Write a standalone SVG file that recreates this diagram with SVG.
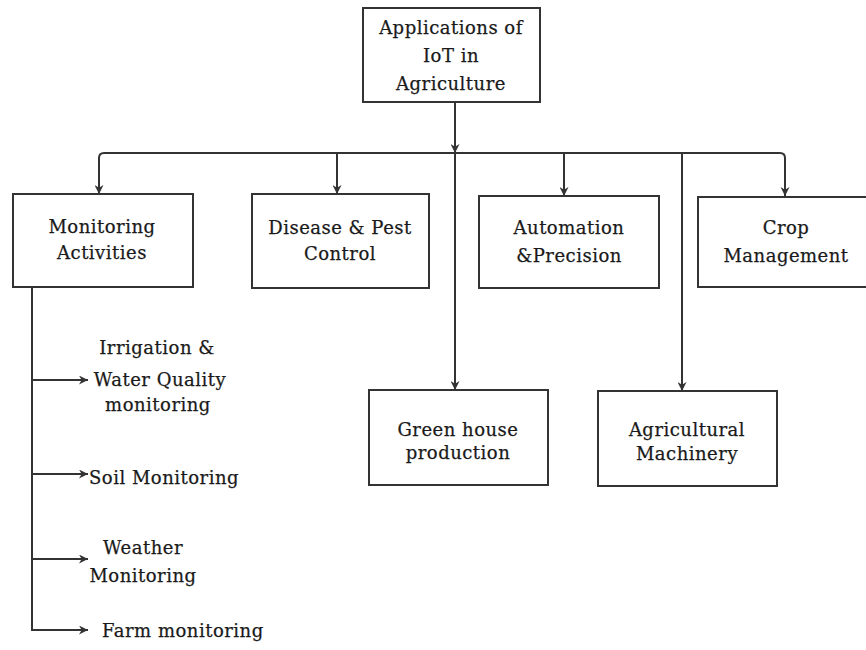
<svg xmlns="http://www.w3.org/2000/svg" width="866" height="650" viewBox="0 0 866 650">
<defs>
<marker id="ah" viewBox="0 0 10 10" refX="10" refY="5" markerWidth="9" markerHeight="9" markerUnits="userSpaceOnUse" orient="auto">
<path d="M0,0 L10,5 L0,10 L3,5 Z" fill="#333"/>
</marker>
<style>
.box{fill:none;stroke:#333;stroke-width:2}
.t{font-family:"DejaVu Serif","Liberation Serif",serif;font-size:18px;letter-spacing:0.5px;fill:#1a1a1a;stroke:#1a1a1a;stroke-width:0.25;text-anchor:middle}
.ts{font-family:"DejaVu Serif","Liberation Serif",serif;font-size:18px;letter-spacing:0.5px;fill:#1a1a1a;stroke:#1a1a1a;stroke-width:0.25}
.c{fill:none;stroke:#333;stroke-width:2}
</style>
</defs>
<rect width="866" height="650" fill="#fff"/>
<g id="connectors">
<path class="c" d="M455,102 V153" marker-end="url(#ah)"/>
<path class="c" d="M455,153 V390" marker-end="url(#ah)"/>
<path class="c" d="M99,194 V158 Q99,153 104,153 H780 Q785,153 785,158 V196" marker-end="url(#ah)"/>
<path class="c" d="M99,158 V194" marker-end="url(#ah)"/>
<path class="c" d="M337,153 V194" marker-end="url(#ah)"/>
<path class="c" d="M564,153 V196" marker-end="url(#ah)"/>
<path class="c" d="M682,153 V391" marker-end="url(#ah)"/>
<path class="c" d="M32,287 V630 H88" marker-end="url(#ah)"/>
<path class="c" d="M32,380 H88" marker-end="url(#ah)"/>
<path class="c" d="M32,474 H88" marker-end="url(#ah)"/>
<path class="c" d="M32,559 H88" marker-end="url(#ah)"/>
</g>
<g id="root">
<rect class="box" x="363" y="8" width="177" height="94"/>
<text class="t" x="451" y="34">Applications of</text>
<text class="t" x="451" y="62">IoT in</text>
<text class="t" x="451" y="90">Agriculture</text>
</g>
<g id="monitoring">
<rect class="box" x="13" y="194" width="180" height="93"/>
<text class="t" x="102" y="233">Monitoring</text>
<text class="t" x="102" y="259">Activities</text>
</g>
<g id="disease">
<rect class="box" x="252" y="194" width="177" height="94"/>
<text class="t" x="340" y="234">Disease &amp; Pest</text>
<text class="t" x="340" y="260">Control</text>
</g>
<g id="automation">
<rect class="box" x="479" y="196" width="180" height="92"/>
<text class="t" x="569" y="234">Automation</text>
<text class="t" x="569" y="262">&amp;Precision</text>
</g>
<g id="crop">
<rect class="box" x="698" y="197" width="175" height="90"/>
<text class="t" x="786" y="234">Crop</text>
<text class="t" x="786" y="262">Management</text>
</g>
<g id="greenhouse">
<rect class="box" x="369" y="390" width="179" height="95"/>
<text class="t" x="458" y="436">Green house</text>
<text class="t" x="458" y="459">production</text>
</g>
<g id="machinery">
<rect class="box" x="598" y="391" width="179" height="95"/>
<text class="t" x="687" y="436">Agricultural</text>
<text class="t" x="687" y="460">Machinery</text>
</g>
<g id="irrigation">
<text class="t" x="157" y="354">Irrigation &amp;</text>
<text class="t" x="160" y="386">Water Quality</text>
<text class="t" x="158" y="411">monitoring</text>
</g>
<g id="soil">
<text class="ts" x="89" y="484">Soil Monitoring</text>
</g>
<g id="weather">
<text class="t" x="143" y="554">Weather</text>
<text class="t" x="143" y="582">Monitoring</text>
</g>
<g id="farm">
<text class="ts" x="102" y="637">Farm monitoring</text>
</g>
</svg>
